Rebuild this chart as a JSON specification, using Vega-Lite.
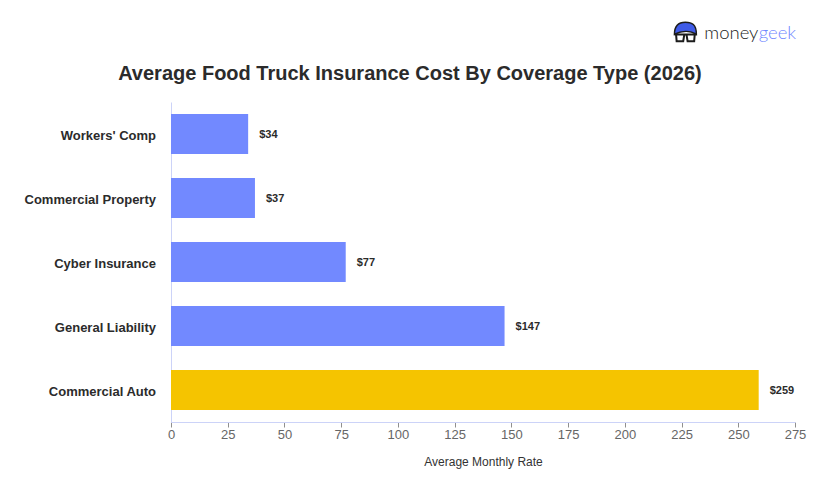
{
  "$schema": "https://vega.github.io/schema/vega-lite/v6.json",
  "width": 624,
  "height": 320,
  "autosize": {"type": "none"},
  "padding": {"left": 171, "top": 102, "right": 25, "bottom": 78},
  "background": "white",
  "title": {
    "text": "Average Food Truck Insurance Cost By Coverage Type (2026)",
    "font": "Liberation Sans",
    "fontSize": 20,
    "fontWeight": "bold",
    "color": "#2b2b2b",
    "anchor": "middle",
    "frame": "bounds",
    "dx": -5,
    "offset": -65
  },
  "data": {
    "values": [
      {"coverage": "Workers' Comp", "rate": 34, "label": "$34", "kind": "other"},
      {"coverage": "Commercial Property", "rate": 37, "label": "$37", "kind": "other"},
      {"coverage": "Cyber Insurance", "rate": 77, "label": "$77", "kind": "other"},
      {"coverage": "General Liability", "rate": 147, "label": "$147", "kind": "other"},
      {"coverage": "Commercial Auto", "rate": 259, "label": "$259", "kind": "top"}
    ]
  },
  "encoding": {
    "y": {
      "field": "coverage",
      "type": "nominal",
      "sort": null,
      "scale": {"paddingInner": 0.375, "paddingOuter": 0.1875},
      "axis": {
        "title": null,
        "ticks": false,
        "domainColor": "#ccd3f8",
        "labelFont": "Liberation Sans",
        "labelFontSize": 13,
        "labelFontWeight": "bold",
        "labelColor": "#2b2b2b",
        "labelPadding": 15.5,
        "labelOffset": 2,
        "labelLimit": 200
      }
    },
    "x": {
      "field": "rate",
      "type": "quantitative",
      "scale": {"domain": [0, 275], "nice": false},
      "axis": {
        "title": "Average Monthly Rate",
        "titleFont": "Liberation Sans",
        "titleFontSize": 12,
        "titleFontWeight": "normal",
        "titleColor": "#333333",
        "titlePadding": 15,
        "values": [0, 25, 50, 75, 100, 125, 150, 175, 200, 225, 250, 275],
        "grid": false,
        "domainColor": "#ccd3f8",
        "tickColor": "#8f8f8f",
        "tickSize": 5,
        "labelFont": "Liberation Sans",
        "labelFontSize": 13,
        "labelColor": "#666666",
        "labelPadding": 1,
        "labelFlush": false
      }
    }
  },
  "layer": [
    {
      "mark": {"type": "bar"},
      "encoding": {
        "color": {
          "field": "kind",
          "type": "nominal",
          "scale": {"domain": ["other", "top"], "range": ["#7289ff", "#f5c400"]},
          "legend": null
        }
      }
    },
    {
      "mark": {
        "type": "text",
        "align": "left",
        "dx": 11,
        "dy": 1,
        "font": "Liberation Sans",
        "fontSize": 11,
        "fontWeight": "bold",
        "color": "#2b2b2b"
      },
      "encoding": {"text": {"field": "label"}}
    },
    {
      "data": {"values": [{"part": "money", "x": 235, "coverage": "Workers' Comp"}]},
      "mark": {"type": "text", "align": "left", "dy": -101, "font": "Lato", "fontSize": 18.5, "fontWeight": 300, "color": "#222222", "clip": false},
      "encoding": {"x": {"field": "x", "type": "quantitative"}, "text": {"field": "part"}}
    },
    {
      "data": {"values": [{"part": "geek", "x": 259, "coverage": "Workers' Comp"}]},
      "mark": {"type": "text", "align": "left", "dy": -101, "font": "Lato", "fontSize": 18.5, "fontWeight": 300, "color": "#6f86ff", "clip": false},
      "encoding": {"x": {"field": "x", "type": "quantitative"}, "text": {"field": "part"}}
    },
    {
      "data": {"values": [{"part": "hair", "x": 226.7, "coverage": "Workers' Comp"}]},
      "mark": {"type": "point", "filled": true, "color": "#3f5be8", "stroke": "#1c1c1c", "strokeWidth": 1.5, "opacity": 1, "yOffset": -103, "size": 480, "shape": "M-1 0.3 C-1 -0.7 -0.4 -0.8 0 -0.8 C0.6 -0.8 1 -0.6 1 0.3 C0.4 -0.1 -0.4 0 -1 0.3 Z"},
      "encoding": {"x": {"field": "x", "type": "quantitative"}}
    },
    {
      "data": {"values": [{"part": "glasses", "x": 226.7, "coverage": "Workers' Comp"}]},
      "mark": {"type": "point", "filled": false, "color": "#1c1c1c", "strokeWidth": 2, "opacity": 1, "yOffset": -95, "size": 480, "shape": "M-1 -0.4 L1 -0.4 M-0.85 -0.4 L-0.8 0.2 L-0.2 0.2 L-0.1 -0.4 M0.1 -0.4 L0.2 0.2 L0.8 0.2 L0.85 -0.4"},
      "encoding": {"x": {"field": "x", "type": "quantitative"}}
    }
  ],
  "config": {"view": {"stroke": null}}
}
